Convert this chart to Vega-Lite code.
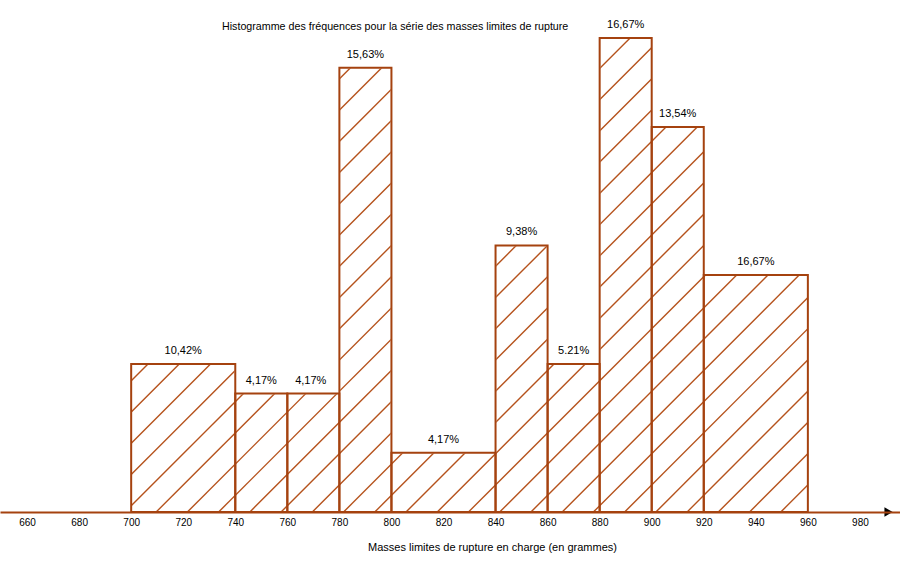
{
  "$schema": "https://vega.github.io/schema/vega-lite/v6.json",
  "autosize": "none",
  "padding": {"left": 0, "right": 0, "top": 38, "bottom": 59},
  "width": 900,
  "height": 474,
  "background": "white",
  "title": {
    "text": "Histogramme des fréquences pour la série des masses limites de rupture",
    "anchor": "start",
    "frame": "group",
    "dx": 222,
    "offset": -14,
    "fontSize": 10.7,
    "fontWeight": "normal",
    "font": "Liberation Sans",
    "color": "#000"
  },
  "datasets": {
    "classes": [
      {"lo": 700, "hi": 740, "mid": 720, "dens": 0.25, "label": "10,42%"},
      {"lo": 740, "hi": 760, "mid": 750, "dens": 0.2, "label": "4,17%"},
      {"lo": 760, "hi": 780, "mid": 769, "dens": 0.2, "label": "4,17%"},
      {"lo": 780, "hi": 800, "mid": 790, "dens": 0.75, "label": "15,63%"},
      {"lo": 800, "hi": 840, "mid": 820, "dens": 0.1, "label": "4,17%"},
      {"lo": 840, "hi": 860, "mid": 850, "dens": 0.45, "label": "9,38%"},
      {"lo": 860, "hi": 880, "mid": 870, "dens": 0.25, "label": "5.21%"},
      {"lo": 880, "hi": 900, "mid": 890, "dens": 0.8, "label": "16,67%"},
      {"lo": 900, "hi": 920, "mid": 910, "dens": 0.65, "label": "13,54%"},
      {"lo": 920, "hi": 960, "mid": 940, "dens": 0.4, "label": "16,67%"}
    ],
    "hatch": [
      {"x0": 613.6, "x1": 795.7},
      {"x0": 625.6, "x1": 807.7},
      {"x0": 637.6, "x1": 819.7},
      {"x0": 649.6, "x1": 831.7},
      {"x0": 661.6, "x1": 843.7},
      {"x0": 673.6, "x1": 855.7},
      {"x0": 685.6, "x1": 867.7},
      {"x0": 697.6, "x1": 879.7},
      {"x0": 709.6, "x1": 891.7},
      {"x0": 721.6, "x1": 903.7},
      {"x0": 733.6, "x1": 915.7},
      {"x0": 745.6, "x1": 927.7},
      {"x0": 757.6, "x1": 939.7},
      {"x0": 769.6, "x1": 951.7},
      {"x0": 781.6, "x1": 963.7},
      {"x0": 793.6, "x1": 975.7},
      {"x0": 805.6, "x1": 987.7},
      {"x0": 817.6, "x1": 999.7},
      {"x0": 829.6, "x1": 1011.7},
      {"x0": 841.6, "x1": 1023.7},
      {"x0": 853.6, "x1": 1035.7},
      {"x0": 865.6, "x1": 1047.7},
      {"x0": 877.6, "x1": 1059.7},
      {"x0": 889.6, "x1": 1071.7},
      {"x0": 901.6, "x1": 1083.7},
      {"x0": 913.6, "x1": 1095.7},
      {"x0": 925.6, "x1": 1107.7},
      {"x0": 937.6, "x1": 1119.7},
      {"x0": 949.6, "x1": 1131.7}
    ],
    "outside": [
      {"lo": 600, "hi": 700},
      {"lo": 960, "hi": 1050}
    ]
  },
  "layer": [
    {
      "data": {"name": "hatch"},
      "mark": {"type": "rule", "clip": true, "color": "#B5521C", "strokeWidth": 1.4},
      "encoding": {
        "x": {
          "field": "x0",
          "type": "quantitative",
          "scale": {"domain": [649.6, 995.4], "nice": false, "zero": false},
          "axis": {
            "values": [660, 680, 700, 720, 740, 760, 780, 800, 820, 840, 860, 880, 900, 920, 940, 960, 980],
            "domainColor": "#A5420F",
            "domainWidth": 2,
            "ticks": false,
            "grid": false,
            "labelFont": "Liberation Sans",
            "labelFontSize": 10,
            "labelColor": "#000",
            "labelPadding": 5,
            "zindex": 1,
            "title": "Masses limites de rupture en charge (en grammes)",
            "titleFont": "Liberation Sans",
            "titleFontSize": 11,
            "titleFontWeight": "normal",
            "titleColor": "#000",
            "titleX": 492,
            "titleY": 35,
            "titleBaseline": "middle"
          }
        },
        "x2": {"field": "x1"},
        "y": {
          "datum": 0,
          "type": "quantitative",
          "scale": {"domain": [0, 0.8], "nice": false},
          "axis": null
        },
        "y2": {"datum": 0.8}
      }
    },
    {
      "data": {"name": "classes"},
      "mark": {"type": "rect", "clip": true, "fill": "white", "stroke": "white", "strokeWidth": 1.5},
      "encoding": {
        "x": {"field": "lo", "type": "quantitative"},
        "x2": {"field": "hi"},
        "y": {"field": "dens", "type": "quantitative"},
        "y2": {"datum": 0.8}
      }
    },
    {
      "data": {"name": "outside"},
      "mark": {"type": "rect", "clip": true, "fill": "white", "stroke": "white", "strokeWidth": 1.5},
      "encoding": {
        "x": {"field": "lo", "type": "quantitative"},
        "x2": {"field": "hi"},
        "y": {"datum": 0, "type": "quantitative"},
        "y2": {"datum": 0.8}
      }
    },
    {
      "data": {"name": "classes"},
      "mark": {"type": "rect", "fill": null, "fillOpacity": 0, "stroke": "#A5420F", "strokeWidth": 2},
      "encoding": {
        "x": {"field": "lo", "type": "quantitative"},
        "x2": {"field": "hi"},
        "y": {"field": "dens", "type": "quantitative"},
        "y2": {"datum": 0}
      }
    },
    {
      "data": {"name": "classes"},
      "mark": {"type": "text", "baseline": "bottom", "dy": -8, "font": "Liberation Sans", "fontSize": 11, "color": "#000"},
      "encoding": {
        "x": {"field": "mid", "type": "quantitative"},
        "y": {"field": "dens", "type": "quantitative"},
        "text": {"field": "label"}
      }
    },
    {
      "data": {"values": [{"x": 991}]},
      "mark": {"type": "point", "shape": "triangle-right", "filled": true, "color": "#000", "size": 90, "opacity": 1},
      "encoding": {
        "x": {"field": "x", "type": "quantitative"},
        "y": {"datum": 0, "type": "quantitative"}
      }
    }
  ],
  "config": {"view": {"stroke": null}}
}
